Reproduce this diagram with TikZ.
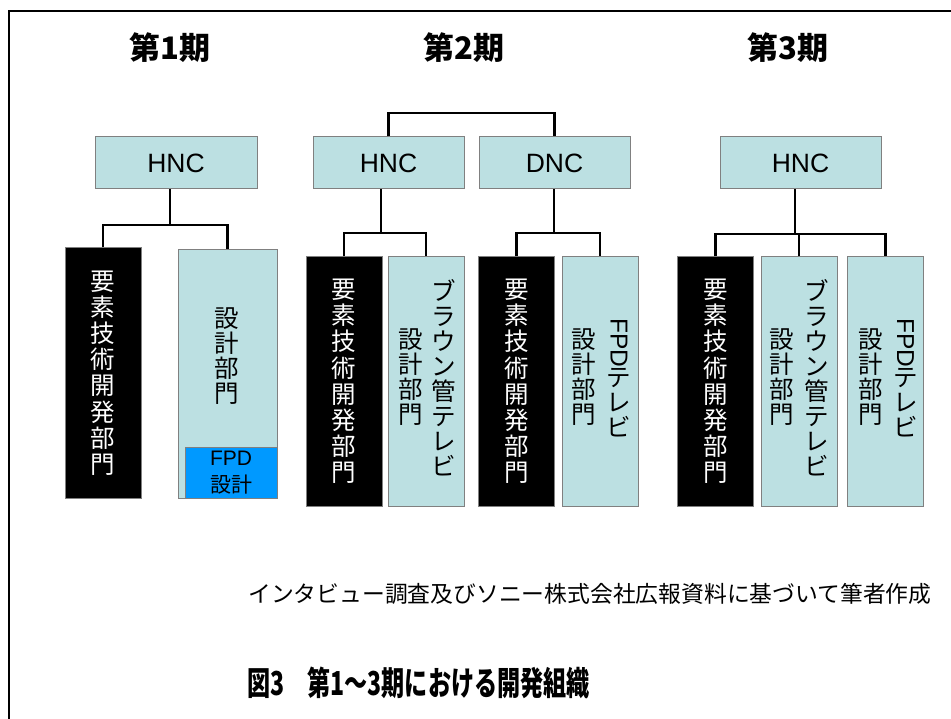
\documentclass[tikz,border=0pt]{standalone}
\usepackage{fontspec}
\usepackage{graphicx}
\setmainfont{Liberation Sans}
\newfontfamily\lat{Liberation Sans}
\newfontfamily\cjk{Noto Sans CJK JP}
\newfontfamily\cjkcond[FakeStretch=0.7]{Noto Sans CJK JP}
\definecolor{lb}{RGB}{188,224,226}
\definecolor{fpdblue}{RGB}{0,153,255}
\definecolor{bord}{RGB}{128,128,128}
\tikzset{
  conn/.style={line width=2.6pt},
  headbox/.style={draw=bord, fill=lb, line width=1pt, minimum height=52pt, inner sep=0pt,
    font=\lat\fontsize{26.5}{28}\selectfont},
  blackbox/.style={draw=bord, fill=black, line width=1pt, minimum width=76pt, minimum height=249pt,
    inner sep=0pt, text=white, align=center, font=\cjk\fontsize{24.5}{26.2}\selectfont},
  bluebox/.style={draw=bord, fill=lb, line width=1pt, minimum width=76pt, minimum height=249pt,
    inner sep=0pt, align=center, font=\cjk\fontsize{24.5}{25.5}\selectfont},
  fpdbox/.style={draw=bord, fill=fpdblue, line width=1pt, minimum width=92pt, minimum height=51pt,
    inner sep=0pt, align=center, font=\lat\fontsize{21}{27}\selectfont},
  vcol/.style={inner sep=0pt, align=center, font=\cjk\fontsize{24.5}{25}\selectfont},
  period/.style={inner sep=0pt, font=\cjk\bfseries\fontsize{31}{34}\selectfont},
}
\begin{document}
\begin{tikzpicture}[x=1pt,y=-1pt]
\useasboundingbox (0,0) rectangle (951,719);
% frame
\draw[line width=2pt] (9,719) -- (9,11) -- (951,11);

% titles
\node[period] (t1) at (170,48) {第1期};
\node[period] (t2) at (464,48) {第2期};
\node[period] (t3) at (788,48) {第3期};

% ---- period 1
\node[headbox, minimum width=162pt] (h1) at (176,163) {HNC};
\node[blackbox, minimum height=250pt] (k1) at (103,373) {要\\素\\技\\術\\開\\発\\部\\門};
\node[bluebox, minimum width=99pt, minimum height=248pt] (s1) at (227.5,374) {};
\node[vcol] (s1t) at (227,356) {設\\計\\部\\門};
\node[fpdbox] (f1) at (231,472.5) {FPD\\{\cjk 設計}};
\coordinate (j1) at (170,225);
\draw[conn] (h1.south -| j1) -- (j1);
\draw[conn] (k1.north) |- (j1) -| (s1.north);

% ---- period 2
\node[headbox, minimum width=151pt] (h2) at (388.5,163) {HNC};
\node[headbox, minimum width=151pt] (d2) at (554.5,163) {DNC};
\coordinate (br) at (470,113);
\draw[conn] (h2.north) |- (br) -| (d2.north);

\node[blackbox] (k2) at (344,381.5) {要\\素\\技\\術\\開\\発\\部\\門};
\node[bluebox] (b2) at (426,381.5) {};
\node[vcol] (b2r) at ([xshift=18pt,yshift=4pt]b2.center) {ブ\\ラ\\ウ\\ン\\管\\テ\\レ\\ビ};
\node[vcol] (b2l) at ([xshift=-15pt,yshift=4pt]b2.center) {設\\計\\部\\門};
\coordinate (j2) at (381,233);
\draw[conn] (h2.south -| j2) -- (j2);
\draw[conn] (k2.north) |- (j2) -| (b2.north);

\node[blackbox] (k2d) at (516.5,381.5) {要\\素\\技\\術\\開\\発\\部\\門};
\node[bluebox] (b2d) at (600,381.5) {};
\node[vcol] (b2dr) at ([xshift=19pt,yshift=4pt]b2d.center) {\rotatebox[origin=c]{-90}{\lat FPD}\\テ\\レ\\ビ};
\node[vcol] (b2dl) at ([xshift=-16pt,yshift=4pt]b2d.center) {設\\計\\部\\門};
\coordinate (j2d) at (554,233);
\draw[conn] (d2.south -| j2d) -- (j2d);
\draw[conn] (k2d.north) |- (j2d) -| (b2d.north);

% ---- period 3
\node[headbox, minimum width=161pt] (h3) at (800.5,163) {HNC};
\node[blackbox] (k3) at (715.5,381.5) {要\\素\\技\\術\\開\\発\\部\\門};
\node[bluebox] (b3) at (799,381.5) {};
\node[vcol] (b3r) at ([xshift=18pt,yshift=4pt]b3.center) {ブ\\ラ\\ウ\\ン\\管\\テ\\レ\\ビ};
\node[vcol] (b3l) at ([xshift=-17pt,yshift=4pt]b3.center) {設\\計\\部\\門};
\node[bluebox] (b3f) at (885.5,381.5) {};
\node[vcol] (b3fr) at ([xshift=20pt,yshift=4pt]b3f.center) {\rotatebox[origin=c]{-90}{\lat FPD}\\テ\\レ\\ビ};
\node[vcol] (b3fl) at ([xshift=-15pt,yshift=4pt]b3f.center) {設\\計\\部\\門};
\coordinate (j3) at (795,234);
\draw[conn] (h3.south -| j3) -- (j3);
\draw[conn] (k3.north) |- (j3) -| (b3f.north);
\draw[conn] (b3.north) -- (b3.north |- j3);

% source note and caption
\node[inner sep=0pt, anchor=west, font=\cjk\fontsize{22.8}{26}\selectfont] (src) at (248,594)
  {インタビュー調査及びソニー株式会社広報資料に基づいて筆者作成};
\node[inner sep=0pt, font=\cjkcond\bfseries\fontsize{33}{36}\selectfont] (cap) at (418.5,683)
  {図3　第1～3期における開発組織};
\end{tikzpicture}
\end{document}
